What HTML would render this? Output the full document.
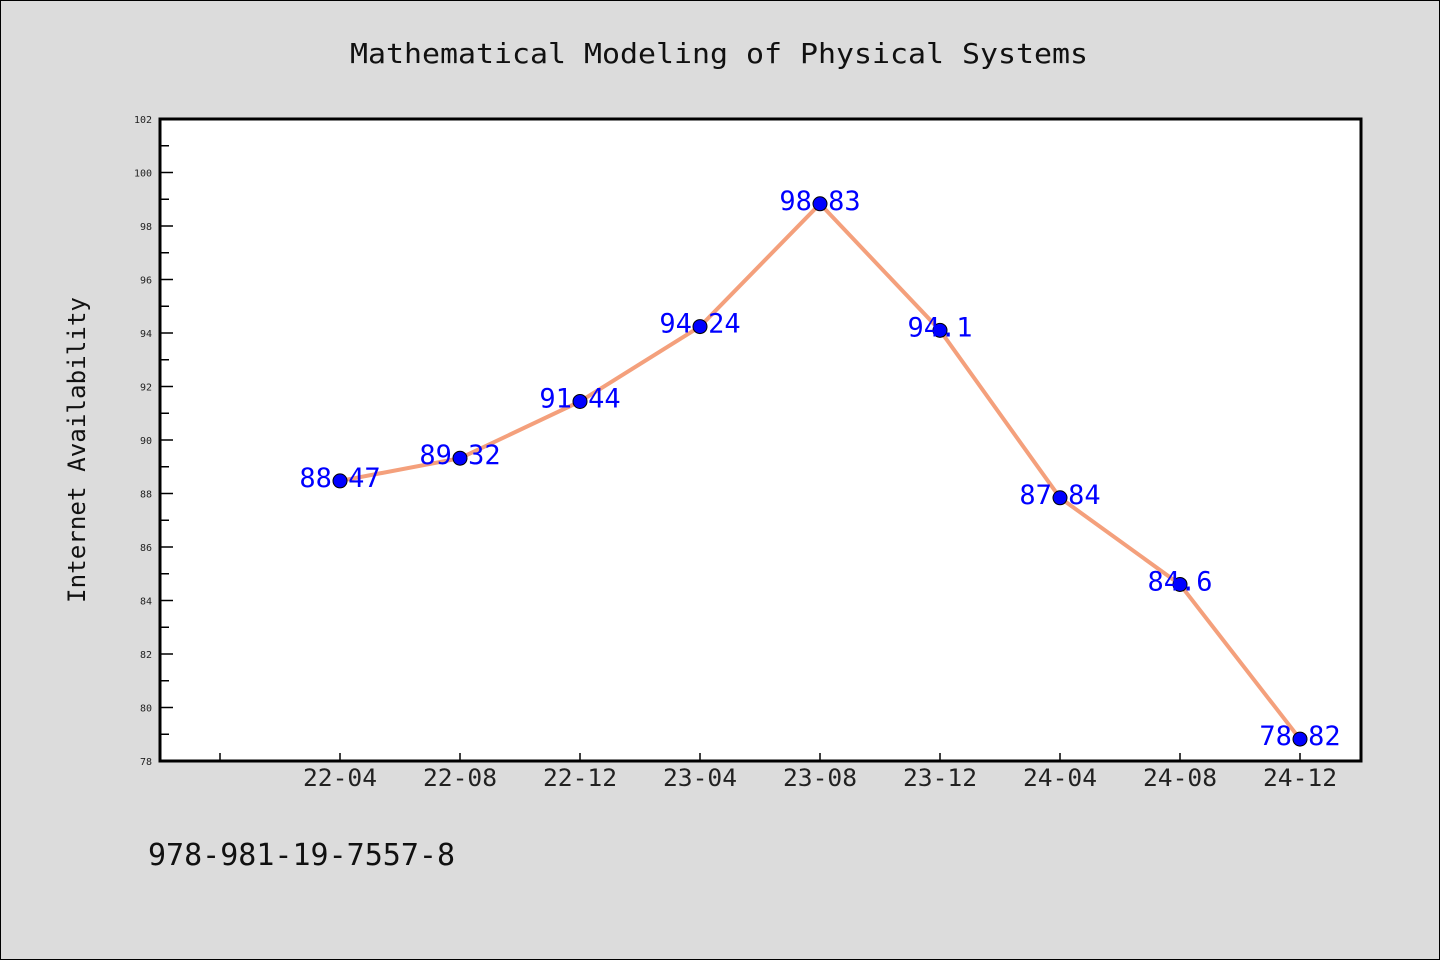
<!DOCTYPE html>
<html><head><meta charset="utf-8"><style>
html,body{margin:0;padding:0;background:#dcdcdc;}
svg{display:block;font-family:"WenQuanYi Zen Hei Mono","WenQuanYi Zen Hei","DejaVu Sans Mono",monospace;}
</style></head><body>
<svg id="chart" width="1440" height="960" viewBox="0 0 1440 960">
<rect x="0.5" y="0.5" width="1439" height="959" fill="#dcdcdc" stroke="#000"/>
<text x="350" y="63" font-size="28" textLength="738" lengthAdjust="spacingAndGlyphs" fill="#111">Mathematical Modeling of Physical Systems</text>
<rect x="160" y="119" width="1201" height="642" fill="#fff"/>
<g id="axes"></g>
<g id="series"></g>
<rect x="160" y="119" width="1201" height="642" fill="none" stroke="#000" stroke-width="3"/>
<text transform="translate(85,603) rotate(-90)" font-size="24" textLength="306" lengthAdjust="spacingAndGlyphs" fill="#111">Internet Availability</text>
<text x="148" y="865" font-size="30" textLength="307" lengthAdjust="spacingAndGlyphs" fill="#111">978-981-19-7557-8</text>
</svg>
<script>
const categories=["22-04","22-08","22-12","23-04","23-08","23-12","24-04","24-08","24-12"];
const values=[88.47,89.32,91.44,94.24,98.83,94.1,87.84,84.6,78.82];
const labels=["88.47","89.32","91.44","94.24","98.83","94.1","87.84","84.6","78.82"];
const yTicks=[78,80,82,84,86,88,90,92,94,96,98,100,102];
const NS="http://www.w3.org/2000/svg";
const yMin=78,yMax=102,plotTop=119,plotBot=761;
function yPos(v){return plotBot-(v-yMin)/(yMax-yMin)*(plotBot-plotTop);}
function xPos(i){return 340+120*i;}
function mk(t,a,p){const e=document.createElementNS(NS,t);for(const k in a)e.setAttribute(k,a[k]);p.appendChild(e);return e;}
const ax=document.getElementById('axes');
yTicks.forEach((v,k)=>{
  const l=mk('line',{x1:160,x2:173,y1:yPos(v),y2:yPos(v),stroke:'#000','stroke-width':1.5},ax);
  
  
  const t=mk('text',{x:152,y:yPos(v)+4,'font-size':10,'text-anchor':'end',fill:'#222'},ax);
  t.textContent=v;
  
  
  if(k<yTicks.length-1){
    const m=mk('line',{x1:160,x2:169,y1:yPos(v+1),y2:yPos(v+1),stroke:'#000','stroke-width':1.5},ax);
    
    
  }
});
for(let i=-1;i<categories.length;i++){
  const l=mk('line',{x1:xPos(i),x2:xPos(i),y1:761,y2:753,stroke:'#000','stroke-width':1.5},ax);
  
  
  if(i>=0){
    const t=mk('text',{x:xPos(i)-37,y:786,'font-size':24,textLength:74,lengthAdjust:'spacingAndGlyphs',fill:'#222'},ax);
    t.textContent=categories[i];
    
    
  }
}
const s=document.getElementById('series');
const pl=mk('polyline',{points:values.map((v,i)=>xPos(i)+','+yPos(v)).join(' '),fill:'none',stroke:'#f4a07c','stroke-width':4},s);


values.forEach((v,i)=>{
  const c=mk('circle',{cx:xPos(i),cy:yPos(v),r:7,fill:'#0000ff',stroke:'#000','stroke-width':1},s);
  
  
  const t=mk('text',{x:xPos(i),y:yPos(v)+6,'font-size':27,'text-anchor':'middle',fill:'#0000ff'},s);
  t.textContent=labels[i];
  
  
});
</script>
</body></html>
